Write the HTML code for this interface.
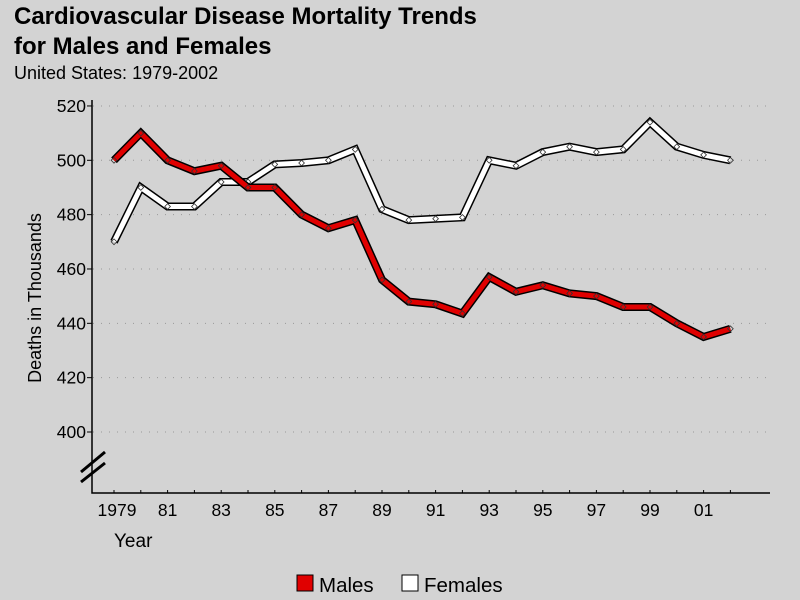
<!DOCTYPE html>
<html><head><meta charset="utf-8"><style>
body{margin:0;background:#d3d3d3;}
svg{display:block;font-family:"Liberation Sans",sans-serif;}
</style></head><body>
<svg id="c" width="800" height="600">
<rect width="800" height="600" fill="#d3d3d3"/>
<text x="14" y="24" font-size="24" font-weight="bold">Cardiovascular Disease Mortality Trends</text>
<text x="14" y="54" font-size="24" font-weight="bold">for Males and Females</text>
<text x="14" y="79" font-size="18">United States: 1979-2002</text>
<text transform="translate(41,298) rotate(-90)" text-anchor="middle" font-size="18">Deaths in Thousands</text>
<text x="114" y="547" font-size="19">Year</text>
<g id="grid"></g><g id="axes"></g><g id="series"></g>
<g>
<rect x="297" y="575" width="16" height="16" fill="#e00000" stroke="#000"/>
<text x="319" y="592" font-size="20.5">Males</text>
<rect x="402" y="575" width="16" height="16" fill="#fff" stroke="#000"/>
<text x="424" y="592" font-size="20.5">Females</text>
</g>
</svg>
<script>
const years=[1979,1980,1981,1982,1983,1984,1985,1986,1987,1988,1989,1990,1991,1992,1993,1994,1995,1996,1997,1998,1999,2000,2001,2002];
const males=[500,510,500,496,498,490,490,480,475,478,456,448,447,443.6,457,451.6,454,451,450,446,446,440,435,438];
const females=[470,490,483,483,492,492,498.5,499,500,504,482,478,478.5,479,500,498,503,505,503,504,514,505,502,500];
const yTicks=[400,420,440,460,480,500,520];
const xLabelYears=[1979,1981,1983,1985,1987,1989,1991,1993,1995,1997,1999,2001];
const xLabels=["1979","81","83","85","87","89","91","93","95","97","99","01"];
const NS="http://www.w3.org/2000/svg";
const X=y=>114+(y-1979)*26.8;
const Y=v=>432-(v-400)*2.717;
function mk(t,a,p){const e=document.createElementNS(NS,t);for(const k in a)e.setAttribute(k,a[k]);document.getElementById(p).appendChild(e);return e;}
yTicks.forEach(v=>{
  const g=mk('line',{x1:93,x2:770,y1:Y(v),y2:Y(v),stroke:'#999','stroke-dasharray':'1 7'},'grid');
  
  
  const t=mk('line',{x1:87,x2:92,y1:Y(v),y2:Y(v),stroke:'#000'},'axes');
  
  
  const l=mk('text',{x:86,y:Y(v)+6,'text-anchor':'end','font-size':17.5},'axes');l.textContent=v;
  
  
});
const ax=mk('path',{d:'M92,100 V493 H770',fill:'none',stroke:'#000','stroke-width':1.5},'axes');


const br=mk('path',{d:'M81,472 L105,452 M81,482 L105,463',stroke:'#000','stroke-width':3},'axes');


years.forEach(y=>{const t=mk('line',{x1:X(y),x2:X(y),y1:493,y2:490,stroke:'#000'},'axes');
  
  });
xLabelYears.forEach((y,i)=>{const l=mk('text',{x:X(y)+(i==0?3:0),y:516,'text-anchor':'middle','font-size':17.5},'axes');l.textContent=xLabels[i];
  
  });
function series(vals,col,name){
  const d=vals.map((v,i)=>(i?'L':'M')+X(years[i]).toFixed(1)+','+Y(v).toFixed(1)).join(' ');
  const o=mk('path',{d,fill:'none',stroke:'#000','stroke-width':8,'stroke-linejoin':'miter'},'series');
  
  
  const p=mk('path',{d,fill:'none',stroke:col,'stroke-width':5,'stroke-linejoin':'miter'},'series');
  
  
  vals.forEach((v,i)=>{const m=mk('rect',{x:X(years[i])-2,y:Y(v)-2,width:4,height:4,fill:'none',stroke:'#333','stroke-width':0.8,transform:`rotate(45 ${X(years[i])} ${Y(v)})`},'series');
    
    });
}
series(females,'#ffffff','females');
series(males,'#e00000','males');
</script>
</body></html>
